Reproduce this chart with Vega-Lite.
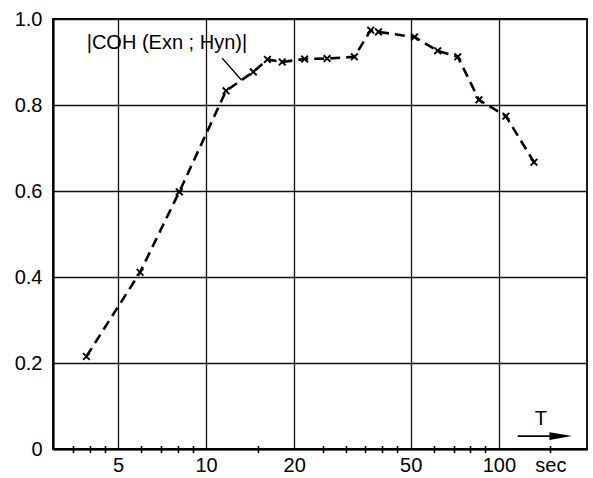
{
  "$schema": "https://vega.github.io/schema/vega-lite/v6.json",
  "width": 534,
  "height": 430,
  "autosize": "none",
  "padding": {"left": 53, "top": 19, "right": 6, "bottom": 29},
  "background": "white",
  "config": {
    "view": {"stroke": "black", "strokeWidth": 1.8},
    "font": "Liberation Sans",
    "axis": {"labelFont": "Liberation Sans", "labelFontSize": 20, "labelColor": "black", "titleFont": "Liberation Sans"}
  },
  "datasets": {
    "coh": [
      {"T": 3.9, "coh": 0.215},
      {"T": 5.95, "coh": 0.411},
      {"T": 8.1, "coh": 0.598},
      {"T": 11.7, "coh": 0.833},
      {"T": 14.5, "coh": 0.877},
      {"T": 16.2, "coh": 0.906},
      {"T": 18.2, "coh": 0.9},
      {"T": 21.7, "coh": 0.907},
      {"T": 25.9, "coh": 0.908},
      {"T": 32.1, "coh": 0.912},
      {"T": 36.5, "coh": 0.974},
      {"T": 38.8, "coh": 0.97},
      {"T": 51.5, "coh": 0.958},
      {"T": 61.8, "coh": 0.926},
      {"T": 72.4, "coh": 0.912},
      {"T": 85.5, "coh": 0.812},
      {"T": 105.7, "coh": 0.774},
      {"T": 131.8, "coh": 0.667}
    ]
  },
  "resolve": {"axis": {"x": "independent", "y": "independent"}},
  "layer": [
    {
      "data": {"name": "coh"},
      "mark": {"type": "line", "color": "black", "strokeWidth": 2.6, "strokeDash": [10, 6]},
      "encoding": {
        "x": {
          "field": "T", "type": "quantitative",
          "scale": {"type": "log", "domain": [3, 200], "nice": false, "zero": false},
          "axis": {
            "orient": "bottom",
            "title": null,
            "values": [5, 10, 20, 50, 100, 150],
            "labelExpr": "datum.value == 150 ? 'sec' : datum.label",
            "format": "d",
            "ticks": false,
            "labelPadding": 6,
            "labelBaseline": "top",
            "labelFlush": false,
            "labelOverlap": false,
            "domain": true,
            "domainColor": "black",
            "domainWidth": 2.2,
            "grid": true,
            "gridColor": {"condition": {"test": "datum.value == 150", "value": "transparent"}, "value": "#111111"},
            "gridWidth": 1.3,
            "gridOpacity": 1
          }
        },
        "y": {
          "field": "coh", "type": "quantitative",
          "scale": {"domain": [0, 1], "nice": false},
          "axis": {
            "orient": "left",
            "title": null,
            "values": [0, 0.2, 0.4, 0.6, 0.8, 1.0],
            "labelExpr": "datum.value == 0 ? '0' : format(datum.value, '.1f')",
            "ticks": false,
            "labelPadding": 11,
            "labelFlush": false,
            "labelOverlap": false,
            "domain": true,
            "domainColor": "black",
            "domainWidth": 2.2,
            "grid": true,
            "gridColor": "#111111",
            "gridWidth": 1.3,
            "gridOpacity": 1
          }
        }
      }
    },
    {
      "data": {"name": "coh"},
      "mark": {"type": "point", "shape": "M-1,-1L1,1M-1,1L1,-1", "filled": false, "stroke": "black", "strokeWidth": 1.9, "size": 45, "opacity": 1},
      "encoding": {
        "x": {
          "field": "T", "type": "quantitative",
          "axis": {
            "orient": "bottom",
            "title": null,
            "values": [3.5, 4, 4.5, 6, 7, 8, 9, 15, 25, 30, 35, 40, 45, 60, 70, 80, 90, 150],
            "labels": false,
            "domain": false,
            "grid": false,
            "ticks": true,
            "tickColor": "black",
            "tickWidth": 1.6,
            "tickSize": 7,
            "offset": -3.5
          }
        },
        "y": {"field": "coh", "type": "quantitative", "axis": null}
      }
    },
    {
      "data": {"values": [{"T": 7.35, "coh": 0.944, "label": "|COH (Exn ; Hyn)|"}]},
      "mark": {"type": "text", "fontSize": 20, "color": "black", "align": "center", "baseline": "middle", "font": "Liberation Sans"},
      "encoding": {
        "x": {"field": "T", "type": "quantitative", "axis": null},
        "y": {"field": "coh", "type": "quantitative", "axis": null},
        "text": {"field": "label"}
      }
    },
    {
      "data": {"values": [{"T": 11.35, "coh": 0.909, "T2": 13.2, "coh2": 0.858}]},
      "mark": {"type": "rule", "color": "black", "strokeWidth": 1.4},
      "encoding": {
        "x": {"field": "T", "type": "quantitative", "axis": null},
        "y": {"field": "coh", "type": "quantitative", "axis": null},
        "x2": {"field": "T2"},
        "y2": {"field": "coh2"}
      }
    },
    {
      "data": {"values": [{"T": 139, "coh": 0.069, "label": "T"}]},
      "mark": {"type": "text", "fontSize": 20, "color": "black", "align": "center", "baseline": "middle", "font": "Liberation Sans"},
      "encoding": {
        "x": {"field": "T", "type": "quantitative", "axis": null},
        "y": {"field": "coh", "type": "quantitative", "axis": null},
        "text": {"field": "label"}
      }
    },
    {
      "data": {"values": [{"T": 116, "coh": 0.03, "T2": 160, "coh2": 0.03}]},
      "mark": {"type": "rule", "color": "black", "strokeWidth": 1.8},
      "encoding": {
        "x": {"field": "T", "type": "quantitative", "axis": null},
        "y": {"field": "coh", "type": "quantitative", "axis": null},
        "x2": {"field": "T2"},
        "y2": {"field": "coh2"}
      }
    },
    {
      "data": {"values": [{"T": 166, "coh": 0.03}]},
      "mark": {"type": "point", "shape": "M-1.6,-0.45L1,0L-1.6,0.45Z", "filled": true, "color": "black", "size": 300, "opacity": 1},
      "encoding": {
        "x": {"field": "T", "type": "quantitative", "axis": null},
        "y": {"field": "coh", "type": "quantitative", "axis": null}
      }
    }
  ]
}
